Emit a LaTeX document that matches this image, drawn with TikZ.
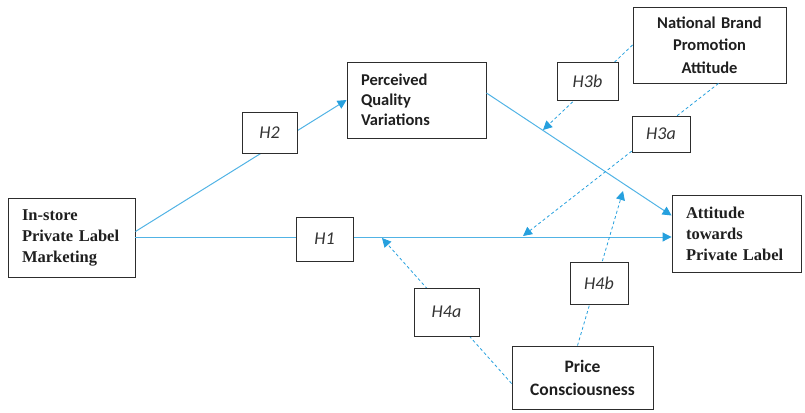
\documentclass[tikz,border=0pt]{standalone}
\usepackage{fontspec}
\setmainfont{Liberation Serif}
\newfontfamily\calfont{Carlito}
\usetikzlibrary{arrows.meta,calc}
\definecolor{pathB}{RGB}{38,160,222}
\definecolor{boxK}{RGB}{45,45,45}

\begin{document}
\begin{tikzpicture}[x=1pt,y=-1pt,>={Triangle[length=9pt,width=9pt,color=pathB]},
  box/.style={draw=boxK,line width=0.9pt,inner ysep=0pt,inner xsep=14pt,align=left,text=black!88},
  hyp/.style={draw=boxK,line width=0.9pt,fill=white,inner sep=0pt,text=black!80,font=\calfont\itshape\fontsize{18}{20}\selectfont},
  link/.style={draw=pathB!80,line width=1pt,->},
  modlink/.style={draw=pathB,line width=0.8pt,->,dash pattern=on 3pt off 2.5pt}]
\useasboundingbox (0,0) rectangle (805,412);
% constructs
\node[box,minimum width=127pt,minimum height=79pt,text width=99pt,font=\bfseries\fontsize{16.5}{21}\selectfont] (instore) at (71.5,237.5) {In-store\\Private Label\\Marketing};
\node[box,minimum width=139pt,minimum height=76pt,text width=111pt,font=\calfont\bfseries\fontsize{16.5}{20}\selectfont] (perceived) at (416.5,100) {Perceived\\Quality\\Variations};
\node[box,align=center,minimum width=153pt,minimum height=76pt,text width=125pt,font=\calfont\bfseries\fontsize{16.5}{22.5}\selectfont] (national) at (709.5,45) {National Brand\\Promotion\\Attitude};
\node[box,minimum width=129pt,minimum height=77pt,text width=101pt,font=\bfseries\fontsize{16.5}{21}\selectfont] (attitude) at (736.5,233.5) {Attitude\\towards\\Private Label};
\node[box,align=center,inner xsep=10pt,minimum width=141pt,minimum height=63pt,text width=121pt,font=\calfont\bfseries\fontsize{17.5}{23}\selectfont] (price) at (582.5,377.5) {Price\\Consciousness};
% tips of the moderating paths
\coordinate (h3btip) at (543,130);
\coordinate (h3atip) at (523,236);
\coordinate (h4atip) at (382,238);
\coordinate (h4btip) at (623,191);
% direct paths
\draw[link] ([yshift=0.5pt]instore.east) -- ([yshift=0.5pt]instore.east -| attitude.west);
\draw[link] ([yshift=6pt]instore.east) -- (perceived.west);
\draw[link] ([yshift=7pt]perceived.east) -- ([yshift=18pt]attitude.west);
% moderating paths
\draw[modlink] (national.west) -- (h3btip);
\draw[modlink] ([xshift=9pt]national.south) -- (h3atip);
\draw[modlink] ([yshift=-6pt]price.west) -- (h4atip);
\draw[modlink] ([xshift=-5pt]price.north) -- (h4btip);
% hypothesis labels
\node[hyp,minimum width=55pt,minimum height=41pt] (h2) at (269.5,132.5) {H2};
\node[hyp,minimum width=57pt,minimum height=44pt] (h1) at (324.5,239) {H1};
\node[hyp,minimum width=65pt,minimum height=48pt] (h4a) at (446.5,312) {H4a};
\node[hyp,minimum width=61pt,minimum height=38pt] (h3b) at (587.5,81) {H3b};
\node[hyp,minimum width=58pt,minimum height=36pt] (h3a) at (661,134) {H3a};
\node[hyp,minimum width=58pt,minimum height=42pt] (h4b) at (599,283) {H4b};
\end{tikzpicture}
\end{document}
